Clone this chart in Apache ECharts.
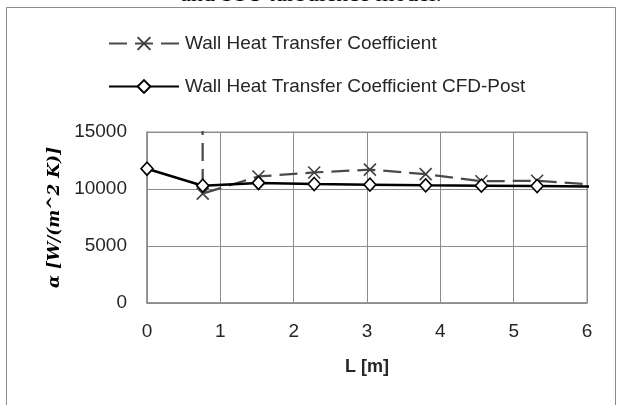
<!DOCTYPE html>
<html><head><meta charset="utf-8">
<script src="https://cdn.jsdelivr.net/npm/echarts@6/dist/echarts.min.js"></script>
<style>html,body{margin:0;padding:0;background:#fff}#c{width:623px;height:405px}</style>
</head><body><div id="c"></div>
<script>
// Data
const lengthM = [0, 0.76, 1.52, 2.28, 3.04, 3.8, 4.56, 5.32, 6.08];
const wallHTC = [2500000, 9600, 11100, 11450, 11700, 11300, 10680, 10720, 10400];
const wallHTCcfdPost = [11780, 10290, 10530, 10440, 10380, 10320, 10290, 10260, 10220];
const seriesNames = ['Wall Heat Transfer Coefficient', 'Wall Heat Transfer Coefficient CFD-Post'];
const xAxisTitle = 'L [m]';
const yAxisTitle = 'α [W/(m^2 K)]';
const captionText = 'and SST turbulence model.';

const pairs = (xs, ys) => xs.map((x, i) => [x, ys[i]]);
const font = 'Liberation Sans, Arial, sans-serif';
const gridColor = '#8c8c8c';

const chart = echarts.init(document.getElementById('c'), null, {renderer: 'canvas'});
chart.setOption({
  animation: false,
  backgroundColor: '#fff',
  graphic: [
    {type: 'rect', silent: true, shape: {x: 6.5, y: 7.5, width: 609, height: 420},
     style: {fill: 'none', stroke: '#8c8c8c', lineWidth: 1}},
    {type: 'text', silent: true, x: 311, y: -5,
     style: {text: captionText, font: '24px "Liberation Serif", serif', fill: '#000', align: 'center', verticalAlign: 'middle'}}
  ],
  legend: {
    orient: 'vertical', left: 108, top: 34, padding: 0,
    itemWidth: 70, itemHeight: 16, itemGap: 24,
    textStyle: {fontFamily: font, fontSize: 19, color: '#262626', lineHeight: 16, padding: [0, 0, 0, 1]},
    data: seriesNames
  },
  grid: {left: 147, right: 36, top: 132, bottom: 102, show: true, borderColor: gridColor, borderWidth: 1},
  xAxis: {
    type: 'value', min: 0, max: 6, interval: 1,
    name: xAxisTitle, nameLocation: 'middle', nameGap: 55,
    nameTextStyle: {fontFamily: font, fontSize: 18, fontWeight: 'bold', color: '#262626'},
    axisLine: {show: true, lineStyle: {color: gridColor, width: 1.5}},
    axisTick: {show: false},
    axisLabel: {fontFamily: font, fontSize: 19, color: '#262626', margin: 19},
    splitLine: {show: true, lineStyle: {color: gridColor, width: 1}}
  },
  yAxis: {
    type: 'value', min: 0, max: 15000, interval: 5000,
    name: yAxisTitle, nameLocation: 'middle', nameGap: 74,
    nameTextStyle: {fontFamily: 'DejaVu Serif, serif', fontSize: 17, fontWeight: 'bold', fontStyle: 'italic', color: '#000'},
    axisLine: {show: true, lineStyle: {color: gridColor, width: 1.5}},
    axisTick: {show: false},
    axisLabel: {fontFamily: font, fontSize: 19, color: '#262626', margin: 20, formatter: v => String(v)},
    splitLine: {show: true, lineStyle: {color: gridColor, width: 1}}
  },
  series: [
    {
      name: seriesNames[0], type: 'line', clip: true,
      data: pairs(lengthM, wallHTC),
      symbol: 'path://M0,0L10,10M10,0L0,10', symbolSize: 12, showAllSymbol: true,
      itemStyle: {color: 'rgba(0,0,0,0)', borderColor: '#404040', borderWidth: 1.6},
      lineStyle: {color: '#4a4a4a', width: 2.25, type: [18, 8]},
      z: 2
    },
    {
      name: seriesNames[1], type: 'line', clip: true,
      data: pairs(lengthM, wallHTCcfdPost),
      symbol: 'diamond', symbolSize: [12, 13], showAllSymbol: true,
      itemStyle: {color: '#fff', borderColor: '#000', borderWidth: 1.6},
      lineStyle: {color: '#000', width: 2.5},
      z: 3
    }
  ]
});
</script></body></html>
